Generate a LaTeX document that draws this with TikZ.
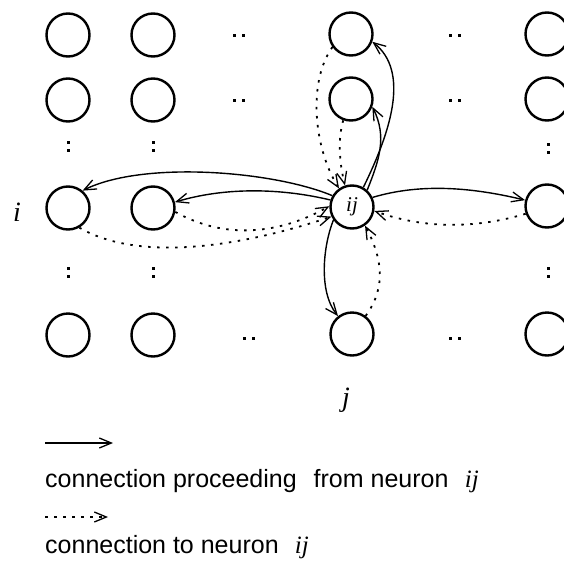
\documentclass[tikz,border=0pt]{standalone}
\usepackage{fontspec}
\setmainfont{Liberation Serif}
\setsansfont{Liberation Sans}
\usetikzlibrary{arrows.meta}

\tikzset{
  neuron/.style={circle, draw, line width=2.4pt, minimum size=43pt, inner sep=0pt},
  tip/.style={-{Straight Barb[length=12pt,width=10pt,line width=1.3pt]}},
  outconn/.style={tip, line width=1.4pt},
  inconn/.style={tip, line width=1.8pt, dash pattern=on 2.5pt off 6.5pt},
  idx/.style={font=\fontsize{28}{30}\selectfont\itshape},
  legendtext/.style={anchor=base west, inner sep=0pt, font=\fontsize{25}{28}\selectfont\sffamily},
  hdots/.pic={\fill (-6,-1.5) rectangle +(3,3); \fill (3,-1.5) rectangle +(3,3);},
  vdots/.pic={\fill (-1.5,-5.5) rectangle +(3,3); \fill (-1.5,2.5) rectangle +(3,3);}
}

\begin{document}
\begin{tikzpicture}[x=1pt, y=-1pt]
  \clip (0,0) rectangle (564,562);

  % grid of neurons
  \node[neuron] (n11) at (68,35)  {};
  \node[neuron] (n12) at (153,35) {};
  \node[neuron] (n13) at (351,34) {};
  \node[neuron] (n14) at (547,34) {};
  \node[neuron] (n21) at (68,100)  {};
  \node[neuron] (n22) at (153,100) {};
  \node[neuron] (n23) at (351,99)  {};
  \node[neuron] (n24) at (547,99)  {};
  \node[neuron] (n31) at (68,208)  {};
  \node[neuron] (n32) at (153,208) {};
  \node[neuron, font=\fontsize{21}{23}\selectfont\itshape] (ij) at (352,207) {ij};
  \node[neuron] (n34) at (547,206) {};
  \node[neuron] (n41) at (68,335)  {};
  \node[neuron] (n42) at (153,335) {};
  \node[neuron] (n43) at (352,334) {};
  \node[neuron] (n44) at (547,334) {};

  % ellipsis marks
  \pic at (239,35)  {hdots};
  \pic at (239,100) {hdots};
  \pic at (455,35)  {hdots};
  \pic at (455,100) {hdots};
  \pic at (249,338) {hdots};
  \pic at (455,338) {hdots};
  \pic at (68,146)  {vdots};
  \pic at (153,146) {vdots};
  \pic at (548,148) {vdots};
  \pic at (68,272)  {vdots};
  \pic at (153,272) {vdots};
  \pic at (548,272) {vdots};

  % row and column indices
  \node[idx] (li) at (17,212) {i};
  \node[idx] (lj) at (346,400) {j};

  % connections leaving neuron ij
  \draw[outconn] (ij.60)  .. controls +(27,-55) and +(38,30)  .. (n13.-20);
  \draw[outconn] (ij.48)  .. controls +(12,-30) and +(15,30)  .. (n23.-20);
  \draw[outconn] (ij.150) .. controls +(-60,-25) and +(60,-30) .. (n31.50);
  \draw[outconn] (ij.162) .. controls +(-50,-12) and +(50,-15) .. (n32.15);
  \draw[outconn] (ij.25)  .. controls +(50,-15) and +(-50,-12) .. (n34.165);
  \draw[outconn] (ij.215) .. controls +(-10,25) and +(-20,-25) .. (n43.128);

  % connections arriving at neuron ij
  \draw[inconn] (n13.215) .. controls +(-25,35) and +(-25,-40) .. (ij.125);
  \draw[inconn] (n23.250) .. controls +(-6,20) and +(-5,-20)   .. (ij.108);
  \draw[inconn] (n31.-60) .. controls +(60,35) and +(-90,30)   .. (ij.205);
  \draw[inconn] (n32.-10) .. controls +(50,28) and +(-50,28)   .. (ij.178);
  \draw[inconn] (n34.200) .. controls +(-50,15) and +(50,18)   .. (ij.-10);
  \draw[inconn] (n43.53)  .. controls +(22,-30) and +(16,30)   .. (ij.-55);

  % legend
  \coordinate (ls0) at (45,443);
  \coordinate (ls1) at (113,443);
  \coordinate (ld0) at (45,517);
  \coordinate (ld1) at (108,517);
  \draw[outconn] (ls0) -- (ls1);
  \draw[inconn] (ld0) -- (ld1);
  \node[legendtext] (t1) at (45,487) {connection proceeding\hspace{0.68em}from neuron\hspace{0.65em}{\rmfamily\itshape ij}};
  \node[legendtext] (t2) at (45,553) {connection to neuron\hspace{0.65em}{\rmfamily\itshape ij}};
\end{tikzpicture}
\end{document}
